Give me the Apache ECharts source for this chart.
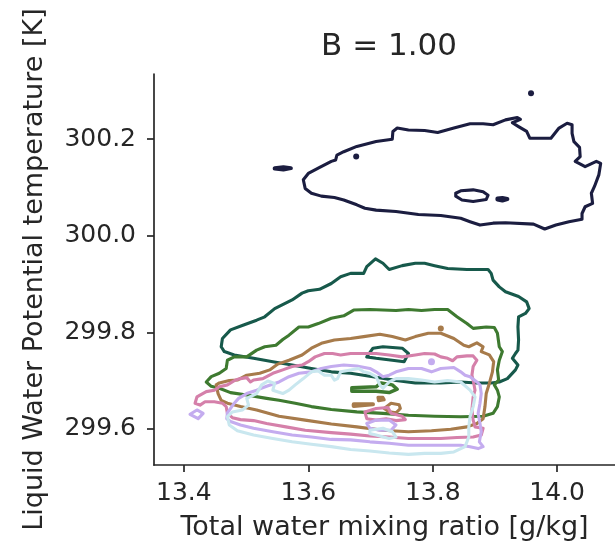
<!DOCTYPE html>
<html>
<head>
<meta charset="utf-8">
<script src="https://cdn.jsdelivr.net/npm/echarts@6/dist/echarts.min.js"></script>
<style>
html,body{margin:0;padding:0;background:#fff;}
#chart{width:615px;height:548px;}
</style>
</head>
<body>
<div id="chart"></div>
<script>
// ---- tick labels ----
const xTicks = [13.4, 13.6, 13.8, 14.0];
const yTicks = [299.6, 299.8, 300.0, 300.2];

// ---- contour lines [x, y] ----
const navyMain = [[13.592,300.116],[13.600,300.129],[13.616,300.140],[13.637,300.154],[13.644,300.157],[13.646,300.167],[13.657,300.174],[13.678,300.185],[13.709,300.195],[13.735,300.200],[13.736,300.216],[13.743,300.223],[13.761,300.219],[13.787,300.218],[13.808,300.214],[13.834,300.223],[13.860,300.232],[13.881,300.232],[13.897,300.230],[13.917,300.240],[13.936,300.245],[13.941,300.241],[13.928,300.234],[13.938,300.226],[13.951,300.216],[13.956,300.202],[13.977,300.202],[13.990,300.202],[14.003,300.223],[14.016,300.233],[14.024,300.230],[14.024,300.212],[14.027,300.195],[14.036,300.183],[14.037,300.164],[14.029,300.154],[14.045,300.143],[14.063,300.154],[14.070,300.150],[14.067,300.126],[14.060,300.102],[14.055,300.088],[14.057,300.067],[14.045,300.060],[14.040,300.046],[14.040,300.034],[14.019,300.029],[13.998,300.022],[13.980,300.014],[13.962,300.024],[13.917,300.027],[13.897,300.026],[13.876,300.022],[13.860,300.029],[13.845,300.036],[13.813,300.042],[13.777,300.044],[13.741,300.050],[13.709,300.053],[13.691,300.057],[13.678,300.064],[13.657,300.074],[13.642,300.079],[13.621,300.082],[13.605,300.088],[13.595,300.098],[13.592,300.116]];
const navyLoop = [[13.837,300.088],[13.845,300.093],[13.865,300.095],[13.881,300.091],[13.889,300.084],[13.886,300.075],[13.865,300.071],[13.847,300.074],[13.837,300.082],[13.837,300.088]];
const navyBlob = [[13.904,300.077],[13.912,300.078],[13.920,300.076],[13.912,300.073],[13.904,300.075],[13.904,300.077]];
const navyDash = [[13.546,300.140],[13.560,300.142],[13.572,300.140],[13.560,300.137],[13.546,300.139],[13.546,300.140]];
const navyDots = [[13.958,300.295],[13.677,300.164]];

const tealMain = [[13.460,299.770],[13.462,299.787],[13.475,299.805],[13.496,299.815],[13.517,299.825],[13.530,299.832],[13.546,299.849],[13.574,299.867],[13.590,299.881],[13.600,299.886],[13.618,299.889],[13.637,299.901],[13.652,299.915],[13.668,299.922],[13.689,299.922],[13.694,299.936],[13.708,299.952],[13.720,299.943],[13.730,299.930],[13.751,299.938],[13.772,299.943],[13.787,299.943],[13.803,299.938],[13.824,299.932],[13.855,299.930],[13.889,299.930],[13.894,299.922],[13.897,299.908],[13.907,299.894],[13.917,299.884],[13.938,299.874],[13.951,299.863],[13.955,299.849],[13.949,299.839],[13.938,299.832],[13.937,299.811],[13.938,299.784],[13.937,299.763],[13.933,299.756],[13.928,299.746],[13.937,299.732],[13.933,299.722],[13.920,299.704],[13.907,299.697],[13.894,299.695],[13.871,299.695],[13.845,299.697],[13.813,299.695],[13.772,299.695],[13.741,299.700],[13.704,299.708],[13.668,299.715],[13.637,299.718],[13.605,299.725],[13.574,299.732],[13.543,299.739],[13.512,299.746],[13.481,299.753],[13.465,299.760],[13.460,299.770]];
const tealLoop = [[13.694,299.749],[13.704,299.767],[13.720,299.770],[13.751,299.767],[13.761,299.756],[13.754,299.739],[13.735,299.742],[13.709,299.746],[13.694,299.749]];

const greenMain = [[13.436,299.697],[13.444,299.708],[13.457,299.715],[13.468,299.725],[13.470,299.742],[13.481,299.749],[13.501,299.749],[13.517,299.763],[13.530,299.770],[13.548,299.773],[13.559,299.785],[13.569,299.794],[13.585,299.811],[13.600,299.811],[13.616,299.818],[13.637,299.829],[13.657,299.834],[13.673,299.846],[13.699,299.847],[13.720,299.846],[13.741,299.845],[13.761,299.847],[13.782,299.845],[13.803,299.847],[13.824,299.847],[13.839,299.832],[13.855,299.818],[13.865,299.808],[13.886,299.811],[13.899,299.810],[13.904,299.798],[13.907,299.770],[13.912,299.760],[13.907,299.742],[13.904,299.722],[13.906,299.701],[13.899,299.691],[13.904,299.680],[13.907,299.666],[13.904,299.646],[13.897,299.632],[13.881,299.626],[13.845,299.625],[13.803,299.626],[13.761,299.628],[13.720,299.632],[13.678,299.635],[13.637,299.640],[13.605,299.646],[13.579,299.653],[13.553,299.659],[13.533,299.663],[13.501,299.670],[13.475,299.675],[13.457,299.684],[13.444,299.688],[13.436,299.697]];
const greenLoop = [[13.670,299.685],[13.709,299.687],[13.717,299.695],[13.735,299.691],[13.743,299.682],[13.730,299.675],[13.709,299.678],[13.670,299.678],[13.670,299.685]];

const brownMain = [[13.452,299.691],[13.457,299.695],[13.473,299.700],[13.486,299.701],[13.501,299.711],[13.522,299.715],[13.538,299.722],[13.551,299.734],[13.569,299.742],[13.590,299.753],[13.605,299.767],[13.621,299.777],[13.642,299.784],[13.668,299.787],[13.689,299.791],[13.715,299.796],[13.735,299.791],[13.756,299.784],[13.772,299.791],[13.793,299.798],[13.813,299.798],[13.834,299.787],[13.850,299.773],[13.858,299.770],[13.871,299.778],[13.881,299.770],[13.878,299.760],[13.891,299.753],[13.898,299.739],[13.896,299.718],[13.891,299.694],[13.886,299.673],[13.884,299.646],[13.881,299.621],[13.871,299.611],[13.855,299.604],[13.829,299.599],[13.798,299.596],[13.761,299.594],[13.720,299.597],[13.678,299.604],[13.637,299.610],[13.595,299.618],[13.553,299.626],[13.517,299.639],[13.491,299.646],[13.470,299.653],[13.460,299.659],[13.455,299.673],[13.452,299.691]];
const brownDash = [[13.673,299.651],[13.704,299.651],[13.704,299.647],[13.673,299.647],[13.673,299.651]];
const brownLoopA = [[13.712,299.665],[13.720,299.665],[13.722,299.660],[13.713,299.658],[13.712,299.665]];
const brownLoopB = [[13.722,299.642],[13.733,299.653],[13.746,299.650],[13.748,299.642],[13.741,299.633],[13.730,299.635],[13.722,299.642]];
const brownDots = [[13.813,299.808]];

const pinkMain = [[13.418,299.653],[13.421,299.666],[13.436,299.677],[13.449,299.680],[13.457,299.687],[13.470,299.691],[13.483,299.701],[13.491,299.704],[13.501,299.706],[13.507,299.697],[13.512,299.701],[13.527,299.704],[13.543,299.715],[13.559,299.722],[13.574,299.729],[13.590,299.732],[13.600,299.739],[13.611,299.749],[13.626,299.756],[13.639,299.756],[13.652,299.753],[13.668,299.756],[13.689,299.756],[13.709,299.756],[13.730,299.753],[13.751,299.749],[13.772,299.753],[13.787,299.756],[13.803,299.755],[13.813,299.749],[13.824,299.746],[13.832,299.741],[13.839,299.749],[13.855,299.751],[13.865,299.751],[13.871,299.742],[13.865,299.729],[13.863,299.711],[13.865,299.701],[13.868,299.680],[13.865,299.666],[13.863,299.639],[13.865,299.618],[13.868,299.604],[13.881,299.601],[13.878,299.587],[13.865,299.583],[13.839,299.582],[13.813,299.580],[13.787,299.580],[13.761,299.580],[13.730,299.583],[13.699,299.585],[13.668,299.589],[13.637,299.592],[13.595,299.597],[13.564,299.604],[13.533,299.611],[13.512,299.617],[13.491,299.619],[13.478,299.623],[13.470,299.632],[13.468,299.646],[13.462,299.653],[13.449,299.656],[13.434,299.656],[13.426,299.649],[13.418,299.653]];
const pinkLoop = [[13.691,299.635],[13.709,299.642],[13.728,299.644],[13.733,299.632],[13.751,299.626],[13.756,299.619],[13.741,299.617],[13.725,299.621],[13.709,299.618],[13.694,299.621],[13.691,299.635]];

const lavenderMain = [[13.470,299.633],[13.481,299.653],[13.488,299.663],[13.501,299.673],[13.517,299.680],[13.533,299.688],[13.553,299.697],[13.569,299.708],[13.585,299.715],[13.605,299.718],[13.621,299.725],[13.637,299.729],[13.657,299.732],[13.678,299.730],[13.699,299.725],[13.709,299.718],[13.720,299.708],[13.730,299.711],[13.741,299.718],[13.761,299.725],[13.782,299.725],[13.798,299.718],[13.813,299.725],[13.834,299.727],[13.845,299.718],[13.852,299.711],[13.860,299.708],[13.871,299.697],[13.876,299.691],[13.878,299.673],[13.876,299.653],[13.873,299.632],[13.876,299.611],[13.878,299.594],[13.875,299.573],[13.881,299.563],[13.873,299.559],[13.860,299.563],[13.845,299.566],[13.813,299.566],[13.787,299.566],[13.761,299.566],[13.730,299.570],[13.699,299.573],[13.668,299.577],[13.637,299.578],[13.605,299.583],[13.574,299.587],[13.543,299.594],[13.512,299.601],[13.491,299.608],[13.475,299.615],[13.469,299.621],[13.470,299.633]];
const lavenderLeft = [[13.410,299.630],[13.421,299.639],[13.431,299.632],[13.423,299.621],[13.410,299.630]];
const lavenderLoop = [[13.694,299.611],[13.709,299.618],[13.730,299.618],[13.741,299.608],[13.733,299.597],[13.715,299.597],[13.699,299.601],[13.694,299.611]];
const lavenderDots = [[13.798,299.739]];

const lightMain = [[13.470,299.625],[13.478,299.635],[13.494,299.639],[13.504,299.649],[13.501,299.663],[13.517,299.673],[13.525,299.691],[13.535,299.699],[13.546,299.694],[13.543,299.680],[13.559,299.673],[13.569,299.680],[13.579,299.691],[13.592,299.704],[13.605,299.718],[13.616,299.720],[13.626,299.711],[13.637,299.711],[13.642,299.701],[13.647,299.704],[13.652,299.718],[13.668,299.722],[13.681,299.725],[13.689,299.718],[13.699,299.715],[13.709,299.708],[13.715,299.691],[13.720,299.684],[13.730,299.697],[13.741,299.704],[13.761,299.704],[13.782,299.701],[13.803,299.697],[13.824,299.700],[13.845,299.697],[13.860,299.680],[13.868,299.666],[13.865,299.646],[13.860,299.625],[13.858,299.604],[13.858,299.583],[13.852,299.563],[13.834,299.552],[13.813,299.549],[13.787,299.549],[13.761,299.547],[13.730,299.550],[13.699,299.554],[13.668,299.557],[13.637,299.563],[13.605,299.568],[13.574,299.573],[13.543,299.580],[13.512,299.587],[13.486,299.596],[13.473,299.608],[13.470,299.625]];
const lightLoop = [[13.699,299.597],[13.720,299.601],[13.735,299.594],[13.741,299.583],[13.730,299.580],[13.709,299.587],[13.699,299.590],[13.699,299.597]];

// ---- colours ----
const colNavy = '#1b1d40', colTeal = '#17594b', colGreen = '#3e7a30', colBrown = '#a77b4b',
      colPink = '#d580aa', colLav = '#c4acef', colLight = '#c9e7ef';

const textColor = '#262626';
const FONT = 'DejaVu Sans';

function lineSeries(data, color, width) {
  return { type: 'line', data: data, showSymbol: false, symbol: 'none', smooth: false,
           lineStyle: { color: color, width: width || 3.1, join: 'round', cap: 'round' },
           silent: true, animation: false, z: 2 };
}
function dotSeries(data, color, size) {
  return { type: 'scatter', data: data, symbolSize: size || 5, itemStyle: { color: color, opacity: 1 },
           silent: true, animation: false, z: 2 };
}

const series = [
  lineSeries(navyMain, colNavy), lineSeries(navyLoop, colNavy), lineSeries(navyBlob, colNavy, 4),
  lineSeries(navyDash, colNavy, 4), dotSeries(navyDots, colNavy, 6),
  lineSeries(tealMain, colTeal), lineSeries(tealLoop, colTeal),
  lineSeries(greenMain, colGreen), lineSeries(greenLoop, colGreen, 3.5),
  lineSeries(brownMain, colBrown), lineSeries(brownDash, colBrown, 4), lineSeries(brownLoopA, colBrown),
  lineSeries(brownLoopB, colBrown), dotSeries(brownDots, colBrown, 6),
  lineSeries(pinkMain, colPink), lineSeries(pinkLoop, colPink),
  lineSeries(lavenderMain, colLav), lineSeries(lavenderLeft, colLav), lineSeries(lavenderLoop, colLav),
  dotSeries(lavenderDots, colLav, 7),
  lineSeries(lightMain, colLight), lineSeries(lightLoop, colLight)
];

const chart = echarts.init(document.getElementById('chart'), null, { renderer: 'canvas' });
chart.setOption({
  animation: false,
  backgroundColor: '#ffffff',
  textStyle: { fontFamily: FONT },
  grid: { left: 154, top: 74, width: 475, height: 391, containLabel: false },
  graphic: [{
    type: 'text', x: 389, y: 31,
    style: { text: 'B = 1.00', fontSize: 31, fontFamily: FONT, fill: textColor,
             textAlign: 'center', textVerticalAlign: 'top' }
  }],
  xAxis: {
    type: 'value', min: 13.352, max: 14.093,
    name: 'Total water mixing ratio [g/kg]', nameLocation: 'middle', nameGap: 49,
    nameTextStyle: { fontSize: 27, fontFamily: FONT, color: textColor },
    axisLine: { show: true, onZero: false, lineStyle: { color: textColor, width: 1.7 } },
    axisTick: { show: true, length: 7, inside: false, customValues: xTicks,
                lineStyle: { color: textColor, width: 1.7 } },
    axisLabel: { show: true, customValues: xTicks, margin: 16, fontSize: 25, fontFamily: FONT,
                 color: textColor, formatter: v => v.toFixed(1) },
    splitLine: { show: false }
  },
  yAxis: {
    type: 'value', min: 299.525, max: 300.335,
    name: 'Liquid Water Potential temperature [K]', nameLocation: 'middle', nameGap: 106,
    nameTextStyle: { fontSize: 27, fontFamily: FONT, color: textColor },
    axisLine: { show: true, onZero: false, lineStyle: { color: textColor, width: 1.7 } },
    axisTick: { show: true, length: 7, inside: false, customValues: yTicks,
                lineStyle: { color: textColor, width: 1.7 } },
    axisLabel: { show: true, customValues: yTicks, margin: 18, fontSize: 25, fontFamily: FONT,
                 color: textColor, formatter: v => v.toFixed(1) },
    splitLine: { show: false }
  },
  series: series
});
</script>
</body>
</html>
